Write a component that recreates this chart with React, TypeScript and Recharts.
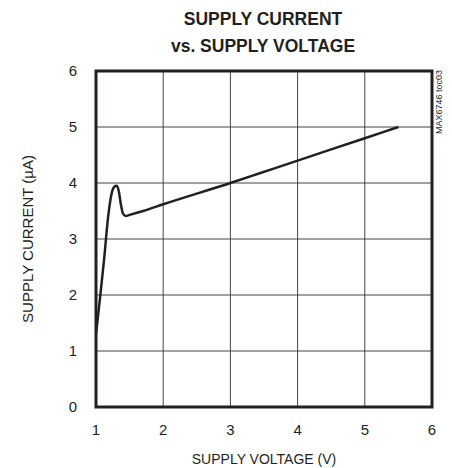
import { LineChart, Line, XAxis, YAxis, CartesianGrid, ReferenceArea } from "recharts";

const voltage = [1.0, 1.06, 1.12, 1.18, 1.23, 1.27, 1.31, 1.34, 1.37, 1.4, 1.44, 1.5, 1.7, 2.0, 3.0, 4.0, 5.0, 5.5];
const current = [1.3, 1.95, 2.63, 3.39, 3.8, 3.93, 3.95, 3.85, 3.62, 3.46, 3.41, 3.43, 3.5, 3.62, 4.0, 4.4, 4.8, 5.0];
const xTicks = [1, 2, 3, 4, 5, 6];
const yTicks = [0, 1, 2, 3, 4, 5, 6];

const data = voltage.map((v, i) => ({ v, i: current[i] }));

const INK = "#231f20";
const FONT = "'Liberation Sans', Arial, sans-serif";

export default function App() {
  return (
    <div style={{ position: "absolute", left: 0, top: 0, width: 452, height: 468, background: "#fff", fontFamily: FONT }}>
      <div style={{ position: "absolute", left: 0, width: 526, top: 6, textAlign: "center", fontWeight: "bold", fontSize: 17.5, lineHeight: "27px", color: INK }}>
        SUPPLY CURRENT
        <br />
        vs. SUPPLY VOLTAGE
      </div>
      <div
        style={{
          position: "absolute",
          left: 439,
          top: 102,
          transform: "translate(-50%, -50%) rotate(-90deg)",
          fontSize: 9,
          whiteSpace: "nowrap",
          color: INK,
        }}
      >
        MAX6746 toc03
      </div>
      <LineChart width={452} height={468} margin={{ top: 71, right: 20, bottom: 31, left: 56 }} data={data}>
        <CartesianGrid stroke="#444" strokeWidth={1} />
        <XAxis
          dataKey="v"
          type="number"
          domain={[1, 6]}
          ticks={xTicks}
          tickLine={false}
          axisLine={false}
          tickSize={0}
          tickMargin={17}
          height={30}
          tick={{ fill: INK, fontSize: 15, fontFamily: FONT }}
          label={{ value: "SUPPLY VOLTAGE (V)", position: "insideBottom", offset: -27, fill: INK, fontSize: 14, fontFamily: FONT }}
        />
        <YAxis
          type="number"
          domain={[0, 6]}
          ticks={yTicks}
          tickLine={false}
          axisLine={false}
          tickSize={0}
          tickMargin={19}
          width={40}
          tick={{ fill: INK, fontSize: 15, fontFamily: FONT }}
          label={{ value: "SUPPLY CURRENT (µA)", angle: -90, position: "center", dx: -48, fill: INK, fontSize: 15, fontFamily: FONT }}
        />
        <ReferenceArea x1={1} x2={6} y1={0} y2={6} fill="none" stroke={INK} strokeWidth={3} ifOverflow="visible" />
        <Line
          dataKey="i"
          type="monotone"
          stroke={INK}
          strokeWidth={2.5}
          dot={false}
          isAnimationActive={false}
        />
      </LineChart>
    </div>
  );
}
